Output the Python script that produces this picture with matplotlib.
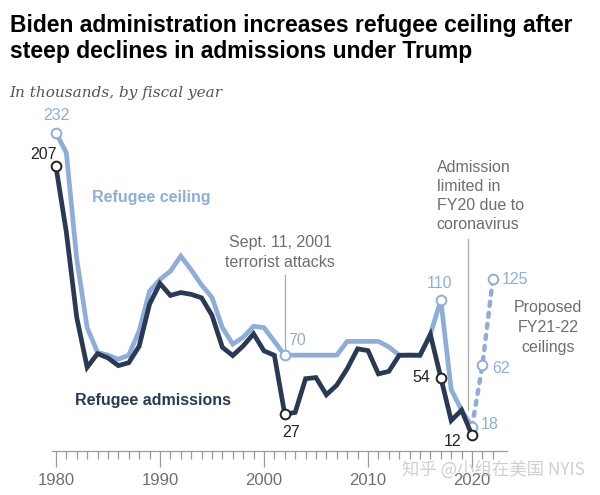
import numpy as np
import matplotlib.pyplot as plt
from matplotlib.ticker import MultipleLocator

# refugee ceilings and admissions, in thousands, FY1980-FY2020
years = list(range(1980, 2021))
ceiling = [231.7, 217.0, 140.0, 90.0, 72.0, 70.0, 67.0, 70.0, 87.5, 116.5,
           125.0, 131.0, 142.0, 132.0, 121.0, 112.0, 90.0, 78.0, 83.0, 91.0,
           90.0, 80.0, 70.0, 70.0, 70.0, 70.0, 70.0, 70.0, 80.0, 80.0,
           80.0, 80.0, 76.0, 70.0, 70.0, 70.0, 85.0, 110.0, 45.0, 30.0,
           18.0]
admissions = [207.1, 159.3, 97.4, 61.2, 71.1, 68.0, 62.4, 64.5, 76.5, 107.1,
              122.1, 113.4, 115.5, 114.2, 111.7, 99.0, 75.7, 69.7, 76.7, 85.5,
              73.1, 69.9, 27.1, 28.4, 52.9, 53.7, 41.2, 48.2, 60.1, 74.6,
              73.3, 56.4, 58.2, 69.9, 70.0, 69.9, 85.0, 53.7, 22.5, 30.0,
              11.8]
proposed_years = [2020, 2021, 2022]
proposed = [18.0, 62.5, 125.0]

title = ("Biden administration increases refugee ceiling after\n"
         "steep declines in admissions under Trump")
subtitle = "In thousands, by fiscal year"

light = '#8eaed9'
dark = '#2a3954'
grey = '#6e6e6e'
lbl_dark = '#222222'

plt.rcParams['font.family'] = ['Liberation Sans', 'DejaVu Sans']

fig = plt.figure(figsize=(6, 4.95), dpi=100)
ax = fig.add_axes([0.0863, 0.0879, 0.7593, 0.695])
ax.set_xlim(1979.6, 2023.4)
ax.set_ylim(0, 250)

ax.plot(years, ceiling, color=light, lw=3.4, solid_joinstyle='miter', zorder=2)
ax.plot(proposed_years, proposed, color=light, lw=3.2,
        linestyle=(0, (0.9, 1.6)), dash_capstyle='round', zorder=2)
ax.plot(years, admissions, color=dark, lw=3.4, solid_joinstyle='miter', zorder=3)

mk = dict(marker='o', ms=7, mfc='white', mew=1.4, ls='none', clip_on=False)
ax.plot([1980, 2002, 2017, 2020], [ceiling[0], ceiling[22], ceiling[37], ceiling[40]],
        mec=light, zorder=2.5, **mk)
ax.plot([2021, 2022], proposed[1:], mec=light, zorder=2.5, **mk)
ax.plot([1980, 2002, 2017, 2020], [admissions[0], admissions[22], admissions[37], admissions[40]],
        mec=lbl_dark, zorder=4, **mk)

fs = 11.5
ax.text(1980, 244, "232", color=light, fontsize=fs, ha='center', va='center')
ax.text(1980.1, 215.5, "207", color=lbl_dark, fontsize=fs, ha='right', va='center')
ax.text(2002.3, 81, "70", color=light, fontsize=fs, ha='left', va='center')
ax.text(2002.6, 14, "27", color=lbl_dark, fontsize=fs, ha='center', va='center')
ax.text(2016.9, 122.2, "110", color=light, fontsize=fs, ha='center', va='center')
ax.text(2016.0, 53.9, "54", color=lbl_dark, fontsize=fs, ha='right', va='center')
ax.text(2019.0, 7.6, "12", color=lbl_dark, fontsize=fs, ha='right', va='center')
ax.text(2020.8, 19.3, "18", color=light, fontsize=fs, ha='left', va='center')
ax.text(2021.9, 60, "62", color=light, fontsize=fs, ha='left', va='center')
ax.text(2022.85, 125.1, "125", color=light, fontsize=fs, ha='left', va='center')

ax.text(1983.5, 184.7, "Refugee ceiling", color=light, fontsize=11.5,
        fontweight='bold', ha='left', va='center')
ax.text(1981.8, 37.4, "Refugee admissions", color=dark, fontsize=11.5,
        fontweight='bold', ha='left', va='center')

ax.text(2001.55, 144.6, "Sept. 11, 2001\nterrorist attacks", color=grey,
        fontsize=fs, ha='center', va='center', linespacing=1.35)
ax.plot([2002, 2002], [128.3, 70], color='#aaaaaa', lw=0.9, zorder=1)

ax.text(2016.6, 185.7, "Admission\nlimited in\nFY20 due to\ncoronavirus",
        color=grey, fontsize=fs, ha='left', va='center', linespacing=1.35)
ax.plot([2019.65, 2019.65], [154.4, 30.2], color='#aaaaaa', lw=0.9, zorder=1)

ax.text(2027.3, 90.1, "Proposed\nFY21-22\nceilings", color=grey,
        fontsize=fs, ha='center', va='center', linespacing=1.4)

for s in ['top', 'right', 'left']:
    ax.spines[s].set_visible(False)
ax.spines['bottom'].set_color('#9a9a9a')
ax.spines['bottom'].set_linewidth(0.9)
ax.set_yticks([])
ax.xaxis.set_major_locator(MultipleLocator(10))
ax.xaxis.set_minor_locator(MultipleLocator(1))
ax.set_xticks(range(1980, 2021, 10))
ax.tick_params(axis='x', which='major', length=11.5, width=0.9, color='#9a9a9a',
               labelsize=12, labelcolor=grey, pad=4)
ax.tick_params(axis='x', which='minor', length=6, width=0.9, color='#9a9a9a')
ax.set_xticks([y for y in range(1980, 2023) if y % 10], minor=True)

fig.text(0.016, 1 - 14 / 495, title, fontsize=16.5, fontweight='bold',
         color='black', ha='left', va='top', linespacing=1.15)
fig.text(0.016, 1 - 97 / 495, subtitle, fontsize=11, style='italic',
         family='DejaVu Serif', color='#555555', ha='left', va='baseline')

fig.text(0.975, 1 - 470 / 495, "知乎 @小组在美国 NYIS", fontsize=12.5,
         family=['Noto Sans CJK SC', 'DejaVu Sans'], color='#b0b0b0', alpha=0.6,
         ha='right', va='center')

fig.savefig('out.png', dpi=100)
